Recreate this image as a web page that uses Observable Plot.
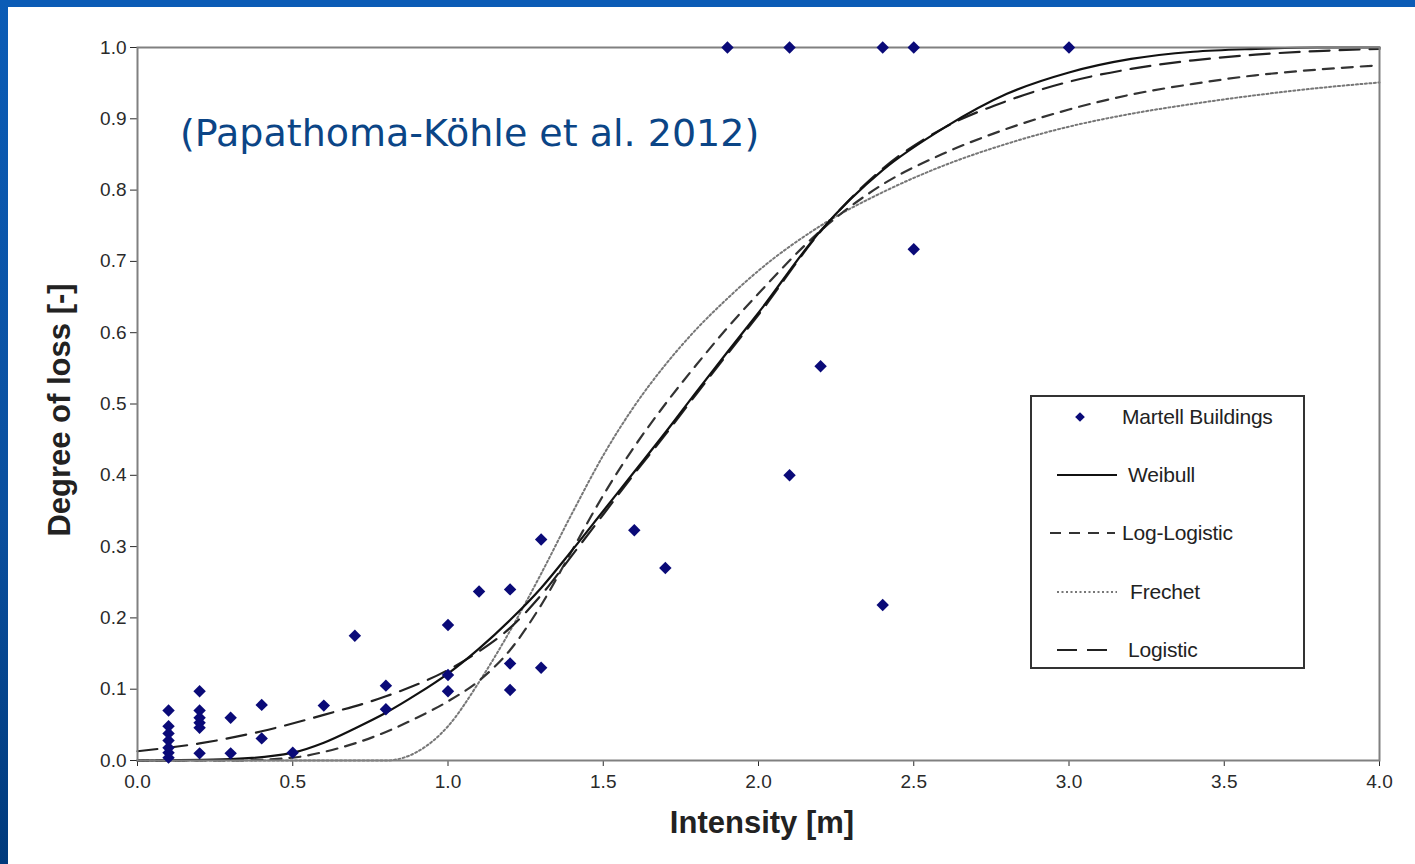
<!DOCTYPE html>
<html>
<head>
<meta charset="utf-8">
<script src="https://cdn.jsdelivr.net/npm/d3@7"></script>
<script src="https://cdn.jsdelivr.net/npm/@observablehq/plot@0.6"></script>
<style>
  html, body { margin: 0; padding: 0; }
  body { width: 1415px; height: 864px; position: relative; overflow: hidden; background: #ffffff; }
  #chart { position: absolute; left: 0; top: 0; }
  #topbar { position: absolute; left: 0; top: 0; width: 1415px; height: 7px; background: #0b5cb6; }
  #leftbar { position: absolute; left: 0; top: 0; width: 8px; height: 864px; background: linear-gradient(#0b5cb6, #0a4f9e 60%, #003a7c); }
</style>
</head>
<body>
<div id="chart"></div>
<div id="topbar"></div>
<div id="leftbar"></div>
<script>
// ---------- data ----------
const titleText = "(Papathoma-Köhle et al. 2012)";
const xLabel = "Intensity [m]";
const yLabel = "Degree of loss [-]";
const xTicks = [0, 0.5, 1.0, 1.5, 2.0, 2.5, 3.0, 3.5, 4.0];
const yTicks = [0, 0.1, 0.2, 0.3, 0.4, 0.5, 0.6, 0.7, 0.8, 0.9, 1.0];

// Observed damage: Martell Buildings
const pointX = [0.1,0.1,0.1,0.1,0.1,0.1,0.1, 0.2,0.2,0.2,0.2,0.2,0.2, 0.3,0.3, 0.4,0.4, 0.5, 0.6, 0.7, 0.8,0.8, 1.0,1.0,1.0, 1.1, 1.2,1.2,1.2, 1.3,1.3, 1.6, 1.7, 1.9, 2.1,2.1, 2.2, 2.4,2.4, 2.5,2.5, 3.0];
const pointY = [0.07,0.048,0.038,0.028,0.018,0.011,0.004, 0.097,0.07,0.06,0.053,0.046,0.01, 0.06,0.01, 0.078,0.031, 0.011, 0.077, 0.175, 0.105,0.072, 0.19,0.12,0.097, 0.237, 0.24,0.136,0.099, 0.31,0.13, 0.323, 0.27, 1.0, 1.0,0.40, 0.553, 1.0,0.218, 1.0,0.717, 1.0];

// Fitted curves
const weibullX = [0,0.3,0.5,0.6,0.7,0.8,0.9,1.0,1.1,1.2,1.3,1.4,1.5,1.6,1.7,1.8,1.9,2.0,2.2,2.4,2.6,2.8,3.0,3.2,3.4,3.6,3.8,4.0];
const weibullY = [0,0.002,0.011,0.025,0.045,0.067,0.093,0.122,0.157,0.197,0.242,0.295,0.35,0.405,0.46,0.517,0.573,0.628,0.743,0.828,0.888,0.935,0.965,0.984,0.994,0.998,1.0,1.0];

const logLogX = [0,0.3,0.5,0.6,0.7,0.8,0.9,1.0,1.1,1.2,1.3,1.4,1.5,1.6,1.7,1.8,1.9,2.0,2.2,2.4,2.6,2.8,3.0,3.2,3.4,3.6,3.8,4.0];
const logLogY = [0,0,0.004,0.012,0.024,0.04,0.06,0.083,0.112,0.155,0.218,0.295,0.372,0.44,0.5,0.555,0.607,0.655,0.743,0.808,0.852,0.886,0.913,0.934,0.949,0.961,0.969,0.975];

const frechetX = [0,0.8,0.9,1.0,1.1,1.2,1.3,1.4,1.5,1.6,1.7,1.8,1.9,2.0,2.2,2.4,2.6,2.8,3.0,3.2,3.4,3.6,3.8,4.0];
const frechetY = [0,0,0.012,0.048,0.11,0.182,0.262,0.347,0.428,0.497,0.555,0.605,0.648,0.687,0.75,0.797,0.835,0.865,0.889,0.907,0.921,0.933,0.943,0.951];

const logisticX = [0,0.2,0.4,0.6,0.8,1.0,1.1,1.2,1.3,1.4,1.5,1.6,1.7,1.8,1.9,2.0,2.2,2.4,2.6,2.8,3.0,3.2,3.4,3.6,3.8,4.0];
const logisticY = [0.013,0.024,0.041,0.064,0.09,0.127,0.153,0.186,0.232,0.288,0.345,0.402,0.457,0.514,0.57,0.625,0.742,0.83,0.888,0.925,0.952,0.97,0.982,0.99,0.995,0.998];

const legendLabels = ["Martell Buildings", "Weibull", "Log-Logistic", "Frechet", "Logistic"];

// ---------- build tables ----------
const pts = pointX.map((x, i) => ({x, y: pointY[i]}));
const toRows = (xs, ys) => xs.map((x, i) => ({x, y: ys[i]}));
const weibull = toRows(weibullX, weibullY);
const logLog = toRows(logLogX, logLogY);
const frechet = toRows(frechetX, frechetY);
const logistic = toRows(logisticX, logisticY);

const styles = {
  weibull: {stroke: "#111", strokeWidth: 2.2},
  logLog: {stroke: "#333", strokeWidth: 2.2, strokeDasharray: "11,8"},
  frechet: {stroke: "#777", strokeWidth: 2, strokeDasharray: "2,2.5"},
  logistic: {stroke: "#222", strokeWidth: 2.2, strokeDasharray: "20,10"}
};

const fmt = d3.format(".1f");

const chart = Plot.plot({
  width: 1415,
  height: 864,
  marginLeft: 137,
  marginRight: 36,
  marginTop: 47,
  marginBottom: 104,
  style: {fontFamily: "'Liberation Sans', Arial, sans-serif", fontSize: "19px", color: "#2a2a2a", background: "transparent"},
  x: {domain: [0, 4], ticks: xTicks, tickFormat: fmt, label: null, tickSize: 6, tickPadding: 8},
  y: {domain: [0, 1], ticks: yTicks, tickFormat: fmt, label: null, tickSize: 7, tickPadding: 4},
  marks: [
    Plot.line(frechet, {x: "x", y: "y", curve: "monotone-x", ...styles.frechet}),
    Plot.line(logLog, {x: "x", y: "y", curve: "monotone-x", ...styles.logLog}),
    Plot.line(logistic, {x: "x", y: "y", curve: "monotone-x", ...styles.logistic}),
    Plot.line(weibull, {x: "x", y: "y", curve: "monotone-x", ...styles.weibull}),
    Plot.frame({stroke: "#808080", strokeWidth: 2}),
    Plot.dot(pts, {x: "x", y: "y", symbol: "diamond2", r: 5.6, fill: "#0a0a78", stroke: "none"})
  ]
});

document.getElementById("chart").appendChild(chart);

// ---------- text & legend ----------
const svg = d3.select(chart);

svg.append("text")
  .attr("x", 180).attr("y", 146)
  .attr("text-anchor", "start")
  .attr("fill", "#0b4586")
  .style("font-family", "'DejaVu Sans', Verdana, sans-serif")
  .style("font-size", "38px")
  .text(titleText);

svg.append("text")
  .attr("x", 762).attr("y", 833)
  .attr("text-anchor", "middle")
  .attr("fill", "#222")
  .style("font-family", "'Liberation Sans', Arial, sans-serif")
  .style("font-size", "31px").style("font-weight", "bold")
  .text(xLabel);

svg.append("text")
  .attr("transform", "translate(70,410) rotate(-90)")
  .attr("text-anchor", "middle")
  .attr("fill", "#222")
  .style("font-family", "'Liberation Sans', Arial, sans-serif")
  .style("font-size", "31px").style("font-weight", "bold")
  .text(yLabel);

// legend box
const lg = svg.append("g");
lg.append("rect")
  .attr("x", 1031).attr("y", 396).attr("width", 273).attr("height", 272)
  .attr("fill", "#fff").attr("stroke", "#333").attr("stroke-width", 2);

const rowY = [417, 475, 533, 592, 650];
const textX = [1122, 1128, 1122, 1130, 1128];
lg.append("path")
  .attr("d", d3.symbol(d3.symbolDiamond2, 60)())
  .attr("transform", `translate(1080,${rowY[0]})`)
  .attr("fill", "#0a0a78");
const lineStyles = [null, styles.weibull, styles.logLog, styles.frechet, styles.logistic];
const lineX = [null, [1057, 1117], [1050, 1115], [1057, 1117], [1057, 1117]];
for (let i = 1; i < 5; i++) {
  const s = lineStyles[i];
  lg.append("line")
    .attr("x1", lineX[i][0]).attr("x2", lineX[i][1])
    .attr("y1", rowY[i]).attr("y2", rowY[i])
    .attr("stroke", s.stroke).attr("stroke-width", s.strokeWidth)
    .attr("stroke-dasharray", s.strokeDasharray || null);
}
legendLabels.forEach((t, i) => {
  lg.append("text")
    .attr("x", textX[i]).attr("y", rowY[i]).attr("dy", "0.35em")
    .attr("text-anchor", "start")
    .attr("fill", "#222")
    .style("font-family", "'Liberation Sans', Arial, sans-serif")
    .style("font-size", "21px")
    .style("letter-spacing", "-0.2px")
    .text(t);
});
</script>
</body>
</html>
